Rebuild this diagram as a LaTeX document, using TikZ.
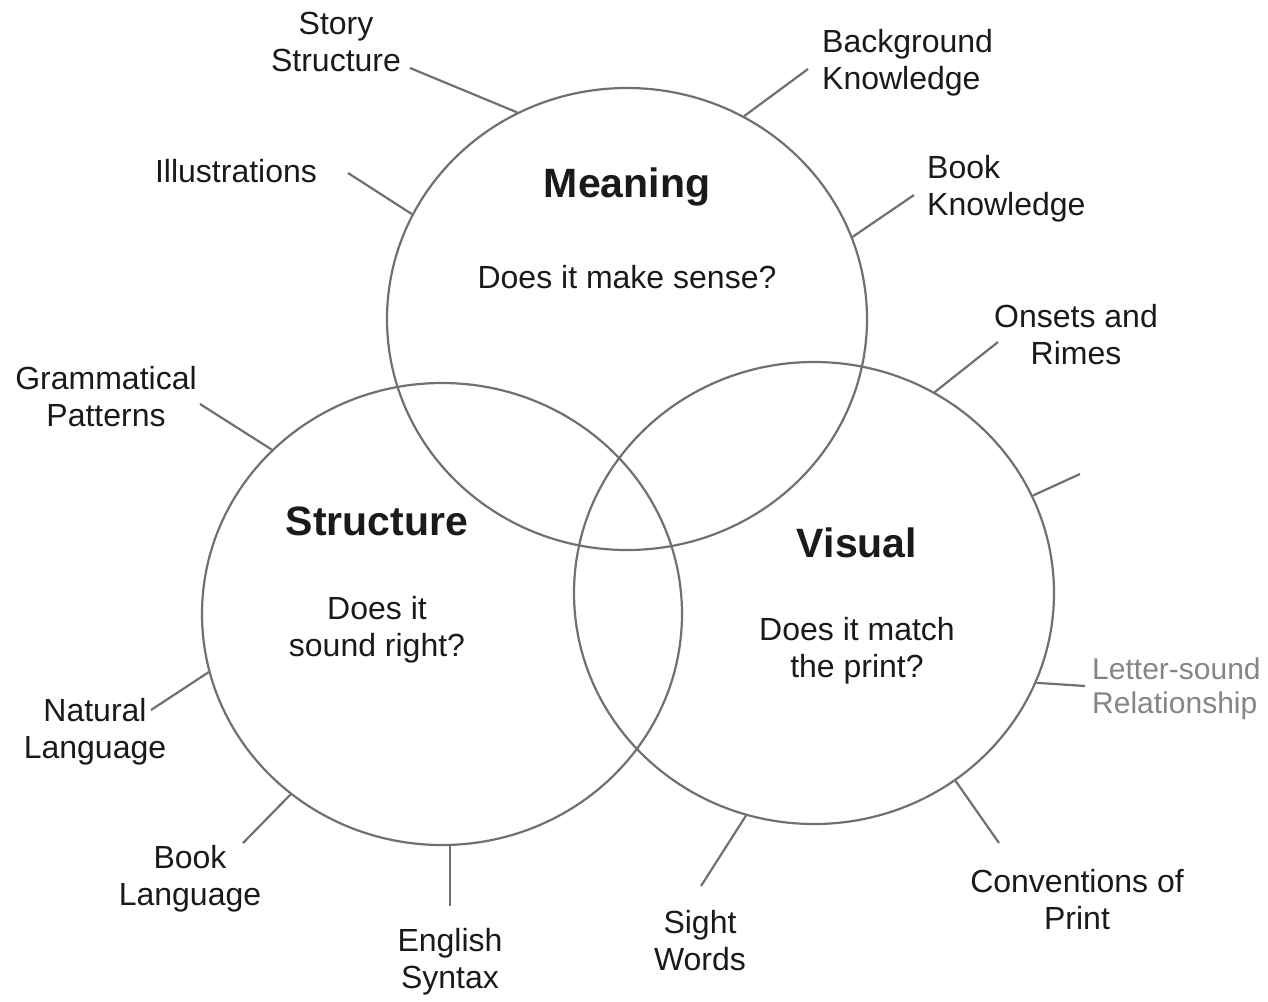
\documentclass[tikz,border=0pt]{standalone}
\usepackage{fontspec}
\setmainfont{Liberation Sans}
\usetikzlibrary{shapes.geometric}
\definecolor{linegray}{HTML}{707070}
\definecolor{txt}{HTML}{1A1A1A}
\definecolor{softgray}{HTML}{858585}
\begin{document}
\begin{tikzpicture}[x=1pt,y=-1pt,
  ring/.style={draw=linegray,line width=2.2pt,ellipse,minimum width=480pt,minimum height=462pt,inner sep=0pt},
  lbl/.style={font=\fontsize{32}{37}\selectfont,text=txt,align=center,inner sep=0pt},
  lbll/.style={lbl,align=left,anchor=west},
  head/.style={font=\fontsize{41}{48}\selectfont\bfseries,text=txt,inner sep=0pt},
  conn/.style={draw=linegray,line width=2.2pt}
]
\useasboundingbox (0,0) rectangle (1268,1001);

% circles
\node[ring] (M) at (627,319) {};
\node[ring] (S) at (442,614) {};
\node[ring] (V) at (814,593) {};

% headings
\node[head] (mh) at (627,187) {Meaning};
\node[lbl] (mq) at (627,277) {Does it make sense?};
\node[head] (sh) at (377,521) {Structure};
\node[lbl] (sq) at (377,630) {Does it\\sound right?};
\node[head] (vh) at (857,543) {Visual};
\node[lbl] (vq) at (857,651) {Does it match\\the print?};

% labels
\node[lbl] (ss) at (336,42) {Story\\Structure};
\node[lbl] (il) at (236,171) {Illustrations};
\node[lbll] (bk) at (822,63) {Background\\Knowledge};
\node[lbll] (bok) at (927,189) {Book\\Knowledge};
\node[lbl] (on) at (1076,335) {Onsets and\\Rimes};
\node[lbll,text=softgray,font=\fontsize{30}{34}\selectfont] (ls) at (1092,689) {Letter-sound\\Relationship};
\node[lbl] (cp) at (1077,900) {Conventions of\\Print};
\node[lbl] (sw) at (700,941) {Sight\\Words};
\node[lbl] (es) at (450,962) {English\\Syntax};
\node[lbl] (bl) at (190,879) {Book\\Language};
\node[lbl] (nl) at (95,732) {Natural\\Language};
\node[lbl] (gp) at (106,397) {Grammatical\\Patterns};

% free ends of connectors
\coordinate (ssE) at (410,68);
\coordinate (ilE) at (348,173);
\coordinate (bkE) at (808,69);
\coordinate (bokE) at (914,195);
\coordinate (onE) at (998,342);
\coordinate (unE) at (1080,474);
\coordinate (lsE) at (1085,686);
\coordinate (cpE) at (999,843);
\coordinate (swE) at (701,886);
\coordinate (esE) at ([yshift=-60pt]S.272);
\coordinate (blE) at (243,843);
\coordinate (nlE) at (151,710);
\coordinate (gpE) at (200,404);

% connectors
\draw[conn] (M.118.4) -- (ssE);
\draw[conn] (M.154.8) -- (ilE);
\draw[conn] (M.60.4) -- (bkE);
\draw[conn] (M.20.7) -- (bokE);
\draw[conn] (V.59.8) -- (onE);
\draw[conn] (V.24.3) -- (unE);
\draw[conn] (V.338) -- (lsE);
\draw[conn] (V.307.2) -- (cpE);
\draw[conn] (V.253.3) -- (swE);
\draw[conn] (S.272) -- (esE);
\draw[conn] (S.230.3) -- (blE);
\draw[conn] (S.194.5) -- (nlE);
\draw[conn] (S.136.3) -- (gpE);
\end{tikzpicture}
\end{document}
